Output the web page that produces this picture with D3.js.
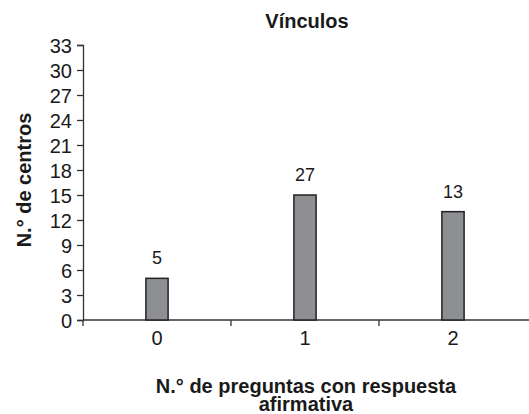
<html>
<head>
  <style>
  body { margin: 0; background: #fff; }
  #chart text { font-family: "Liberation Sans", Arial, sans-serif; fill: #1a1a1a; }
  #chart .title { font-weight: bold; font-size: 20px; }
  #chart .label { font-size: 18px; }
  #chart .axis-title { font-weight: bold; font-size: 20px; }
  </style>
  <script src="https://d3js.org/d3.v7.min.js"></script>
</head>
<body>
  <svg id="chart"></svg>
</body>
  <script>
  // Data
  var categories = ["0", "1", "2"];
  var values = [5, 15, 13];          // bar heights
  var barLabels = ["5", "27", "13"]; // text printed above the bars
  var yTicks = [0, 3, 6, 9, 12, 15, 18, 21, 24, 27, 30, 33];

  var width = 529,
      height = 414,
      margin = {top: 45, right: 0, bottom: 94, left: 83};

  var svg = d3.select("#chart")
      .attr("width", width)
      .attr("height", height);

  var x = d3.scaleBand()
      .domain(categories)
      .range([margin.left, margin.left + 444])
      .paddingInner(0.85)
      .paddingOuter(0.425);

  var y = d3.scaleLinear()
      .domain([0, 33])
      .range([height - margin.bottom, margin.top]);

  // x axis: line with ticks at band edges
  var xg = svg.append("g").attr("transform", "translate(0," + y(0) + ")");
  xg.append("line")
      .attr("x1", margin.left).attr("x2", width)
      .attr("stroke", "#333").attr("stroke-width", 1.3);
  var step = x.step();
  var edges = [0, 1, 2].map(function(i) { return margin.left + i * step; });
  xg.selectAll(".edge").data(edges).enter().append("line")
      .attr("x1", function(d) { return d; }).attr("x2", function(d) { return d; })
      .attr("y1", 0).attr("y2", 6)
      .attr("stroke", "#333").attr("stroke-width", 1.3);
  xg.selectAll(".xlab").data(categories).enter().append("text")
      .attr("class", "xlab")
      .attr("x", function(d) { return x(d) + x.bandwidth() / 2; })
      .attr("y", 25)
      .attr("font-size", "20px")
      .attr("text-anchor", "middle")
      .text(function(d) { return d; });

  // y axis
  var yAxis = d3.axisLeft(y).tickValues(yTicks).tickSize(6).tickPadding(5);
  var yg = svg.append("g")
      .attr("transform", "translate(" + margin.left + ",0)")
      .call(yAxis)
      .attr("font-size", "20px")
      .attr("font-family", null);
  yg.select(".domain").attr("stroke", "#333").attr("stroke-width", 1.3);
  yg.selectAll(".tick line").attr("stroke", "#333").attr("stroke-width", 1.3);
  yg.selectAll(".tick text").attr("dy", "0.36em").attr("fill", "#1a1a1a");

  // bars
  svg.selectAll(".bar").data(values).enter().append("rect")
      .attr("class", "bar")
      .attr("x", function(d, i) { return x(categories[i]); })
      .attr("y", function(d) { return y(d); })
      .attr("width", x.bandwidth())
      .attr("height", function(d) { return y(0) - y(d); })
      .attr("fill", "#8e8f93")
      .attr("stroke", "#222")
      .attr("stroke-width", 1.5);

  // labels above bars
  svg.selectAll(".label").data(values).enter().append("text")
      .attr("class", "label")
      .attr("x", function(d, i) { return x(categories[i]) + x.bandwidth() / 2; })
      .attr("y", function(d) { return y(d) - 14; })
      .attr("text-anchor", "middle")
      .text(function(d, i) { return barLabels[i]; });

  // titles
  svg.append("text").attr("class", "title")
      .attr("x", 307).attr("y", 28)
      .attr("text-anchor", "middle")
      .text("Vínculos");

  svg.append("text").attr("class", "axis-title")
      .attr("transform", "translate(31,180) rotate(-90)")
      .attr("text-anchor", "middle")
      .text("N.° de centros");

  var xt = svg.append("text").attr("class", "axis-title")
      .attr("font-size", "21px")
      .attr("text-anchor", "middle");
  xt.append("tspan").attr("x", 306).attr("y", 393).text("N.° de preguntas con respuesta");
  xt.append("tspan").attr("x", 306).attr("y", 411).text("afirmativa");
  </script>
</html>
